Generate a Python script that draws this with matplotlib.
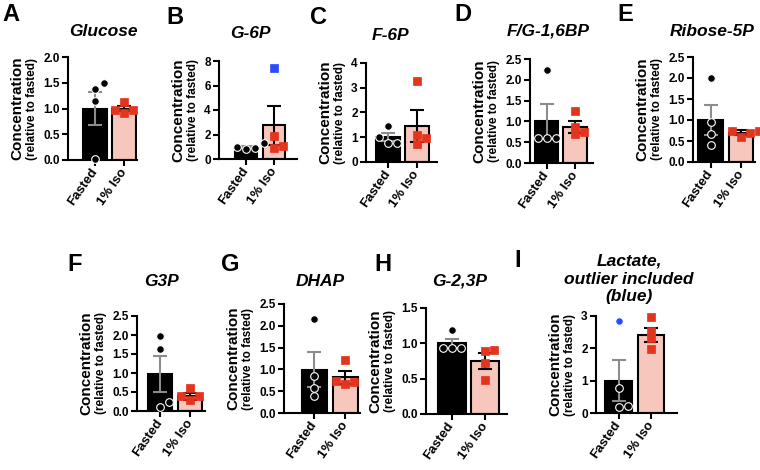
import matplotlib
matplotlib.use('Agg')
import matplotlib.pyplot as plt
import numpy as np

plt.rcParams['font.family'] = ['Liberation Sans', 'DejaVu Sans']
plt.rcParams['font.weight'] = 'bold'

# ---------------- data ----------------
groups = ['Fasted', '1% Iso']
panel_letters = ['A', 'B', 'C', 'D', 'E', 'F', 'G', 'H', 'I']
titles = ['Glucose', 'G-6P', 'F-6P', 'F/G-1,6BP', 'Ribose-5P', 'G3P', 'DHAP',
          'G-2,3P', 'Lactate,\noutlier included\n(blue)']

fasted_mean = [1.0, 1.0, 1.0, 1.0, 1.0, 0.98, 0.99, 1.0, 1.0]
fasted_sem = [0.33, 0.10, 0.17, 0.42, 0.36, 0.48, 0.40, 0.06, 0.63]
iso_mean = [1.0, 2.76, 1.46, 0.87, 0.70, 0.39, 0.82, 0.75, 2.41]
iso_sem = [0.05, 1.60, 0.65, 0.15, 0.06, 0.09, 0.15, 0.11, 0.21]

fasted_pts = [
    [1.38, 1.49, 1.14, 0.01],
    [1.30, 0.85, 1.02, 0.88],
    [1.45, 1.02, 0.78, 0.78],
    [2.24, 0.60, 0.60, 0.60],
    [2.01, 0.95, 0.67, 0.40],
    [1.97, 1.62, 0.10, 0.23],
    [2.15, 0.85, 0.57, 0.40],
    [1.19, 0.94, 0.94, 0.94],
    [2.85, 0.77, 0.18, 0.22],
]
iso_pts = [
    [1.12, 0.92, 0.98, 0.98],
    [7.46, 1.84, 0.89, 1.10],
    [3.28, 1.08, 0.72, 0.95],
    [1.26, 0.87, 0.70, 0.75],
    [0.59, 0.75, 0.69, 0.75],
    [0.61, 0.28, 0.40, 0.40],
    [1.22, 0.67, 0.74, 0.70],
    [0.91, 0.89, 0.72, 0.48],
    [2.98, 2.55, 2.33, 1.98],
]
# index of the point shown as outlier (blue), -1 if none
fasted_outlier = [-1, -1, -1, -1, -1, -1, -1, -1, 0]
iso_outlier = [-1, 0, -1, -1, -1, -1, -1, -1, -1]

ymax = [2.0, 8, 4, 2.5, 2.5, 2.5, 2.5, 1.5, 3]
ystep = [0.5, 2, 1, 0.5, 0.5, 0.5, 0.5, 0.5, 1]
ydec = [1, 0, 0, 1, 1, 1, 1, 1, 0]

# ---------------- layout (pixels) ----------------
W, H = 760, 470
# left, right, top, bottom of axes; centre of bar 0, centre of bar 1; bar width
layout = [
    (68, 137, 57, 160, 95, 124, 24),
    (219, 297, 61, 159, 246, 274, 22),
    (366, 437, 63, 162, 388, 416.5, 24),
    (530, 593, 59, 163, 546.5, 575, 23.5),
    (693, 755, 57, 162, 710.5, 741, 24.5),
    (137, 205, 316, 411, 160, 190, 24),
    (284, 360, 304, 413, 314, 345, 25),
    (426, 507, 308, 414, 451.5, 485, 28),
    (596, 677, 316, 413, 618.5, 651, 26.5),
]
letter_pos = [(2, 3), (166, 6), (310, 6), (454, 3), (617, 3),
              (67, 253), (221, 253), (374, 253), (514, 249)]
title_pos = [(103, 32), (250, 33), (390, 35), (548, 31), (712, 32),
             (162, 281), (320, 281), (460, 281), (629, 279)]

BLACK = '#000000'
PINK = '#f7c6bd'
RED = '#e3341d'
BLUE = '#2a4bff'
GRAY = '#8c8c8c'


def px_box(l, r, t, b):
    return [l / W, 1 - b / H, (r - l) / W, (b - t) / H]


def swarm(vals, ppu_y, ppu_x, diam=7.0, step=9.0):
    vals = np.asarray(vals, dtype=float)
    order = np.argsort(vals, kind='stable')
    placed = []
    offs = np.zeros(len(vals))
    for k in order:
        y = vals[k] * ppu_y
        xo = 0.0
        for cand in [0, 1, -1, 2, -2]:
            xo = cand * step
            if all((xo - px) ** 2 + (y - py) ** 2 >= diam ** 2 for px, py in placed):
                break
        placed.append((xo, y))
        offs[k] = xo / ppu_x
    return offs


fig = plt.figure(figsize=(7.6, 4.7), dpi=100)
axes = []
for i in range(9):
    l, r, t, b, c0, c1, bw = layout[i]
    s = c1 - c0
    ax = fig.add_axes(px_box(l, r, t, b))
    axes.append(ax)
    ax.set_xlim((l - c0) / s, (r - c0) / s)
    ax.set_ylim(0, ymax[i])
    x = np.arange(2)
    ax.bar(x, [fasted_mean[i], iso_mean[i]], width=bw / s,
           color=[BLACK, PINK], edgecolor='black', linewidth=1.5, zorder=1)
    ax.errorbar(0, fasted_mean[i], yerr=fasted_sem[i], color=GRAY, capsize=5,
                elinewidth=1.5, capthick=1.5, zorder=2)
    ax.errorbar(1, iso_mean[i], yerr=iso_sem[i], color='black', capsize=5,
                elinewidth=1.5, capthick=1.5, zorder=2)

    ppu_y = (b - t) / ymax[i]
    fo = swarm(fasted_pts[i], ppu_y, s)
    io = swarm(iso_pts[i], ppu_y, s)
    for k, v in enumerate(fasted_pts[i]):
        c = BLUE if k == fasted_outlier[i] else BLACK
        ax.plot(0 + fo[k], v, marker='o', ms=5.5, mfc=c, mec='white', mew=0.8,
                zorder=3, clip_on=False, ls='none')
    for k, v in enumerate(iso_pts[i]):
        c = BLUE if k == iso_outlier[i] else RED
        ax.plot(1 + io[k], v, marker='s', ms=5.5, mfc=c, mec=c, mew=0.5,
                zorder=3, clip_on=False, ls='none')

    ticks = np.arange(0, ymax[i] + 1e-9, ystep[i])
    ax.set_yticks(ticks)
    ax.set_yticklabels([f'{v:.{ydec[i]}f}' for v in ticks], fontsize=8.5,
                       fontweight='bold')
    ax.set_xticks(x)
    ax.set_xticklabels(groups, rotation=55, ha='right', va='center',
                       rotation_mode='anchor', fontsize=9.5, fontweight='bold')
    ax.tick_params(axis='both', direction='out', length=4, width=1.5, pad=2)
    ax.tick_params(axis='x', pad=3)
    for sp in ['top', 'right']:
        ax.spines[sp].set_visible(False)
    for sp in ['left', 'bottom']:
        ax.spines[sp].set_linewidth(1.5)

    lx, ly = letter_pos[i]
    fig.text(lx / W, 1 - ly / H, panel_letters[i], fontsize=17,
             fontweight='bold', ha='left', va='top')
    tx, ty = title_pos[i]
    fig.text(tx / W, 1 - ty / H, titles[i], fontsize=12.5, fontweight='bold',
             fontstyle='italic', ha='center', va='center', linespacing=1.25)

fig.canvas.draw()
renderer = fig.canvas.get_renderer()
for i, ax in enumerate(axes):
    l, r, t, b, c0, c1, bw = layout[i]
    x0 = min(tl.get_window_extent(renderer).x0 for tl in ax.get_yticklabels())
    yc = 1 - (t + b) / 2 / H
    fig.text((x0 - 26) / W, yc, 'Concentration', rotation=90, fontsize=11,
             fontweight='bold', ha='center', va='center')
    fig.text((x0 - 11) / W, yc, '(relative to fasted)', rotation=90,
             fontsize=8.5, fontweight='bold', ha='center', va='center')

fig.savefig('out.png', dpi=100)
